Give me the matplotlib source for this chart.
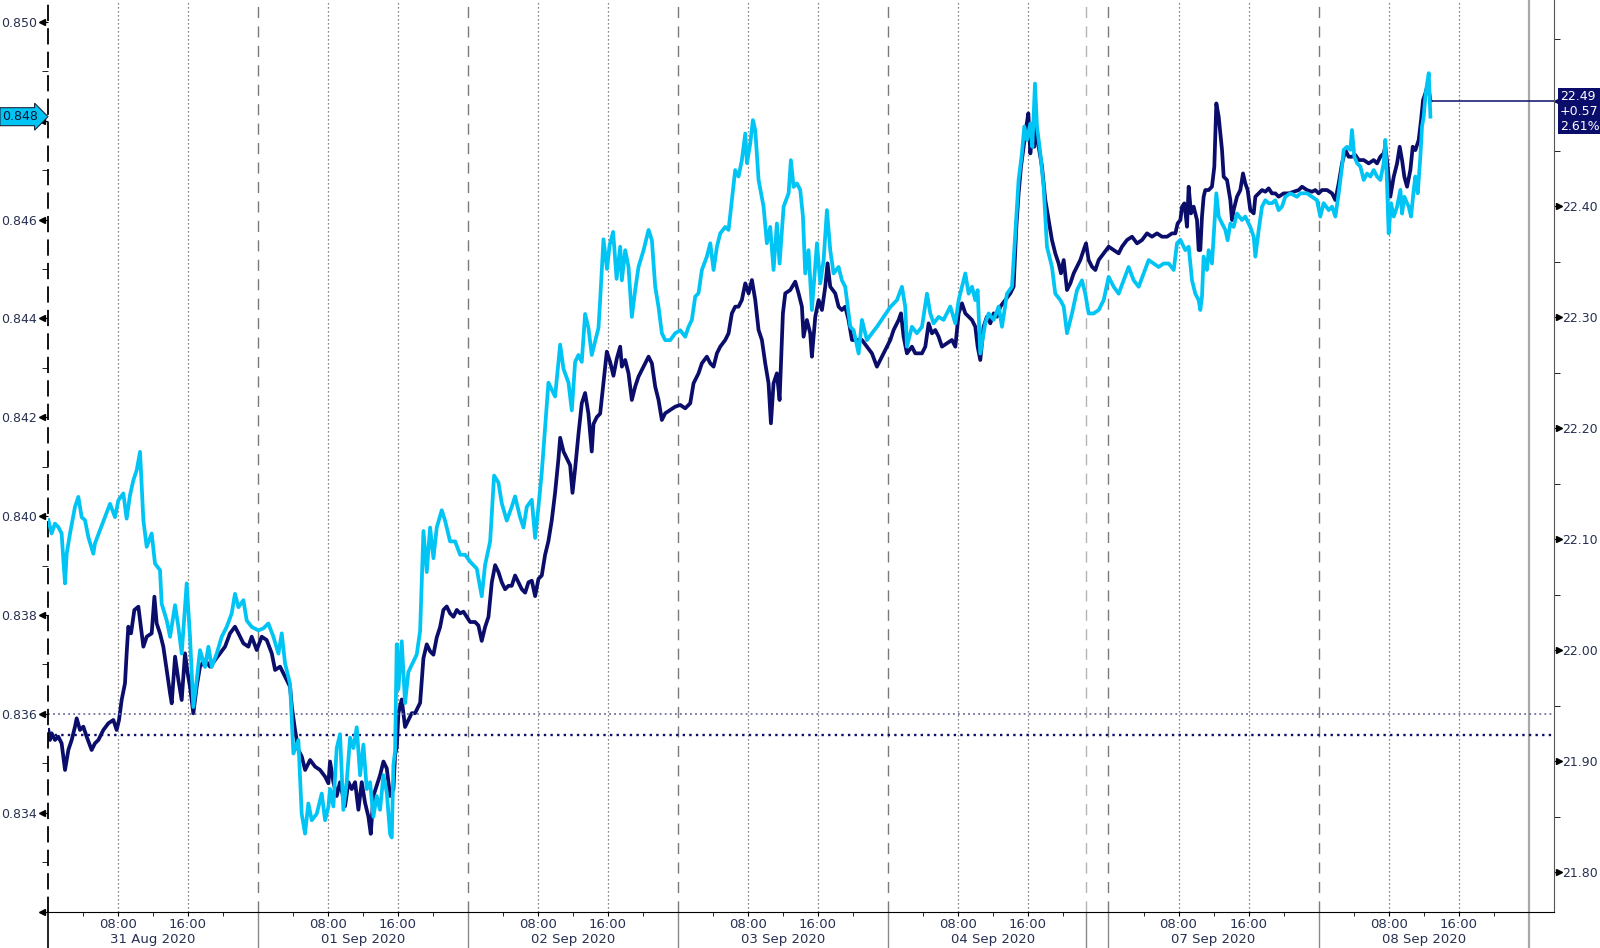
import matplotlib
matplotlib.use("Agg")
import matplotlib.pyplot as plt
import numpy as np
from matplotlib.transforms import blended_transform_factory as blend

# x positions are "chart hours" from 31 Aug 00:00 with the weekend squeezed out
day_starts = [0, 24, 48, 72, 96, 121.2, 145.2]
day_names = ["31 Aug 2020", "01 Sep 2020", "02 Sep 2020", "03 Sep 2020",
             "04 Sep 2020", "07 Sep 2020", "08 Sep 2020"]
week_break = 118.6
end_of_view = 169.2
x_max = 172.1

# light blue series (left axis)
light_t = [
    0.07, 0.45, 0.83, 1.21, 1.59, 1.79, 1.98, 2.17, 2.55, 3.12,
    3.50, 3.88, 4.26, 4.64, 5.21, 5.40, 5.98, 6.55, 7.12, 7.69,
    8.07, 8.64, 9.02, 9.40, 9.79, 10.17, 10.55, 10.74, 10.93, 11.31,
    11.88, 12.26, 12.83, 13.02, 13.60, 13.98, 14.55, 14.93, 15.31, 15.88,
    16.26, 16.64, 17.02, 17.40, 17.98, 18.36, 18.74, 19.31, 19.88, 20.45,
    21.02, 21.40, 21.79, 22.36, 22.74, 23.31, 24.07, 24.64, 25.21, 25.79,
    26.36, 26.74, 27.12, 27.69, 28.07, 28.64, 29.02, 29.40, 29.78, 30.17,
    30.74, 31.31, 31.69, 32.07, 32.26, 32.64, 33.02, 33.40, 33.78, 34.16,
    34.55, 34.93, 35.31, 35.69, 36.07, 36.45, 36.83, 37.21, 37.59, 37.97,
    38.36, 38.74, 39.12, 39.31, 39.50, 39.69, 39.88, 40.07, 40.45, 40.83,
    41.21, 41.78, 42.16, 42.55, 42.93, 43.31, 43.69, 44.07, 44.45, 45.02,
    45.40, 45.97, 46.55, 47.12, 47.69, 48.26, 49.02, 49.59, 49.97, 50.55,
    51.00, 51.50, 51.88, 52.45, 53.02, 53.40, 53.97, 54.36, 54.74, 55.31,
    55.69, 56.07, 56.45, 56.83, 57.21, 57.59, 57.97, 58.55, 58.93, 59.50,
    59.88, 60.26, 60.64, 61.02, 61.40, 61.78, 62.16, 62.55, 62.93, 63.12,
    63.50, 63.90, 64.20, 64.60, 65.00, 65.41, 65.60, 65.98, 66.36, 66.74,
    67.12, 67.50, 68.08, 68.65, 69.03, 69.41, 69.79, 70.17, 70.55, 71.12,
    71.70, 72.27, 72.84, 73.22, 73.60, 73.98, 74.36, 74.74, 75.31, 75.70,
    76.08, 76.46, 76.84, 77.41, 77.79, 78.17, 78.55, 78.93, 79.31, 79.70,
    79.89, 80.27, 80.57, 80.84, 81.22, 81.79, 82.17, 82.55, 82.93, 83.31,
    83.62, 84.08, 84.65, 84.91, 85.22, 85.60, 85.98, 86.29, 86.55, 86.93,
    87.31, 87.89, 88.27, 88.65, 89.03, 89.41, 89.79, 90.36, 90.74, 91.12,
    91.70, 92.08, 92.65, 93.03, 93.60, 94.17, 94.74, 95.50, 96.27, 97.03,
    97.60, 97.98, 98.17, 98.74, 99.31, 99.89, 100.46, 100.84, 101.22, 101.79,
    102.36, 103.12, 103.70, 104.08, 104.46, 104.84, 105.22, 105.60, 105.98, 106.25,
    106.55, 107.12, 107.50, 108.08, 108.65, 109.03, 109.60, 110.17, 110.55, 110.93,
    111.31, 111.58, 111.89, 112.27, 112.50, 112.80, 113.03, 113.41, 113.79, 114.17,
    114.74, 115.12, 115.70, 116.08, 116.46, 117.03, 117.60, 118.17, 118.55, 118.93,
    119.50, 120.08, 120.65, 121.22, 121.79, 122.36, 122.93, 123.50, 124.08, 124.65,
    125.22, 125.79, 126.36, 126.93, 127.50, 128.08, 128.65, 129.03, 129.41, 129.98,
    130.36, 130.74, 131.12, 131.50, 131.69, 131.88, 132.07, 132.45, 132.64, 133.02,
    133.21, 133.52, 133.79, 134.17, 134.55, 134.81, 135.12, 135.50, 135.88, 136.45,
    136.83, 137.40, 137.79, 137.98, 138.36, 138.74, 139.12, 139.50, 139.88, 140.26,
    140.64, 141.02, 141.40, 141.98, 142.74, 143.12, 143.88, 144.45, 145.02, 145.40,
    145.78, 146.36, 146.74, 147.12, 147.50, 147.88, 148.07, 148.45, 148.83, 149.02,
    149.29, 149.60, 149.98, 150.36, 150.74, 151.12, 151.50, 151.88, 152.26, 152.64,
    152.83, 153.02, 153.21, 153.48, 153.79, 154.17, 154.55, 154.74, 155.00, 155.31,
    155.50, 155.77, 156.07, 156.26, 156.53, 156.83, 157.02, 157.21, 157.40, 157.60,
    157.79, 157.98,
]
light_v = [
    0.83992, 0.83965, 0.83985, 0.83978, 0.83965, 0.83911, 0.83864, 0.83924, 0.83965, 0.84019,
    0.84039, 0.83998, 0.83992, 0.83958, 0.83924, 0.83945, 0.83972, 0.83998, 0.84025, 0.83998,
    0.84032, 0.84046, 0.83995, 0.84042, 0.84073, 0.84093, 0.84130, 0.84059, 0.83992, 0.83938,
    0.83965, 0.83904, 0.83891, 0.83823, 0.83789, 0.83756, 0.83820, 0.83776, 0.83722, 0.83864,
    0.83756, 0.83614, 0.83668, 0.83729, 0.83695, 0.83736, 0.83695, 0.83722, 0.83756, 0.83776,
    0.83803, 0.83843, 0.83816, 0.83830, 0.83789, 0.83776, 0.83769, 0.83773, 0.83783, 0.83756,
    0.83722, 0.83763, 0.83702, 0.83661, 0.83520, 0.83547, 0.83398, 0.83358, 0.83419, 0.83385,
    0.83398, 0.83439, 0.83385, 0.83412, 0.83448, 0.83413, 0.83531, 0.83559, 0.83406, 0.83462,
    0.83552, 0.83531, 0.83573, 0.83476, 0.83538, 0.83448, 0.83462, 0.83392, 0.83434, 0.83406,
    0.83476, 0.83441, 0.83357, 0.83350, 0.83497, 0.83525, 0.83741, 0.83650, 0.83747, 0.83622,
    0.83685, 0.83706, 0.83720, 0.83768, 0.83970, 0.83887, 0.83977, 0.83915, 0.83977, 0.84012,
    0.83991, 0.83949, 0.83949, 0.83922, 0.83922, 0.83908, 0.83894, 0.83838, 0.83901, 0.83949,
    0.84082, 0.84068, 0.84026, 0.83991, 0.84019, 0.84040, 0.83998, 0.83977, 0.84019, 0.84033,
    0.83956, 0.84019, 0.84089, 0.84179, 0.84270, 0.84256, 0.84242, 0.84347, 0.84298, 0.84270,
    0.84214, 0.84312, 0.84326, 0.84312, 0.84409, 0.84381, 0.84326, 0.84354, 0.84381, 0.84437,
    0.84560, 0.84500, 0.84548, 0.84575, 0.84480, 0.84545, 0.84477, 0.84538, 0.84504, 0.84403,
    0.84457, 0.84504, 0.84538, 0.84579, 0.84558, 0.84464, 0.84423, 0.84370, 0.84356, 0.84356,
    0.84370, 0.84376, 0.84363, 0.84383, 0.84397, 0.84444, 0.84451, 0.84498, 0.84525, 0.84552,
    0.84498, 0.84545, 0.84572, 0.84585, 0.84579, 0.84639, 0.84700, 0.84687, 0.84720, 0.84774,
    0.84714, 0.84754, 0.84801, 0.84781, 0.84680, 0.84626, 0.84552, 0.84585, 0.84498, 0.84592,
    0.84511, 0.84626, 0.84653, 0.84720, 0.84666, 0.84673, 0.84660, 0.84606, 0.84491, 0.84538,
    0.84417, 0.84552, 0.84471, 0.84518, 0.84619, 0.84538, 0.84491, 0.84504, 0.84477, 0.84464,
    0.84383, 0.84376, 0.84329, 0.84397, 0.84356, 0.84370, 0.84383, 0.84403, 0.84423, 0.84437,
    0.84464, 0.84423, 0.84343, 0.84383, 0.84370, 0.84383, 0.84450, 0.84410, 0.84390, 0.84403,
    0.84397, 0.84424, 0.84390, 0.84437, 0.84464, 0.84491, 0.84450, 0.84464, 0.84437, 0.84457,
    0.84329, 0.84390, 0.84410, 0.84397, 0.84424, 0.84383, 0.84450, 0.84464, 0.84572, 0.84680,
    0.84734, 0.84788, 0.84761, 0.84794, 0.84747, 0.84875, 0.84788, 0.84734, 0.84666, 0.84545,
    0.84504, 0.84450, 0.84437, 0.84424, 0.84370, 0.84410, 0.84457, 0.84477, 0.84450, 0.84410,
    0.84410, 0.84417, 0.84437, 0.84484, 0.84464, 0.84450, 0.84477, 0.84504, 0.84477, 0.84464,
    0.84491, 0.84518, 0.84511, 0.84504, 0.84511, 0.84511, 0.84498, 0.84552, 0.84559, 0.84538,
    0.84545, 0.84477, 0.84450, 0.84437, 0.84417, 0.84444, 0.84525, 0.84498, 0.84538, 0.84511,
    0.84565, 0.84653, 0.84606, 0.84592, 0.84579, 0.84558, 0.84592, 0.84585, 0.84612, 0.84599,
    0.84606, 0.84585, 0.84565, 0.84525, 0.84579, 0.84626, 0.84639, 0.84633, 0.84633, 0.84639,
    0.84619, 0.84626, 0.84646, 0.84653, 0.84646, 0.84653, 0.84653, 0.84646, 0.84639, 0.84606,
    0.84633, 0.84619, 0.84626, 0.84606, 0.84653, 0.84707, 0.84741, 0.84747, 0.84741, 0.84781,
    0.84727, 0.84714, 0.84707, 0.84680, 0.84693, 0.84687, 0.84700, 0.84687, 0.84680, 0.84714,
    0.84761, 0.84673, 0.84572, 0.84633, 0.84606, 0.84626, 0.84660, 0.84612, 0.84646, 0.84633,
    0.84626, 0.84606, 0.84660, 0.84687, 0.84653, 0.84727, 0.84788, 0.84808, 0.84848, 0.84875,
    0.84896, 0.84808,
]

# dark navy series (right axis)
dark_t = [
    0.07, 0.26, 0.45, 0.83, 1.21, 1.59, 1.98, 2.36, 2.74, 3.12,
    3.31, 3.69, 4.07, 4.45, 5.02, 5.40, 5.79, 6.36, 6.93, 7.50,
    7.88, 8.15, 8.45, 8.83, 9.02, 9.21, 9.52, 9.90, 10.36, 10.55,
    10.93, 11.31, 11.88, 12.19, 12.45, 12.83, 13.21, 13.60, 13.98, 14.17,
    14.55, 14.93, 15.31, 15.69, 15.99, 16.26, 16.64, 17.02, 17.40, 17.98,
    18.55, 19.12, 19.69, 20.26, 20.83, 21.40, 21.79, 22.36, 22.93, 23.31,
    23.88, 24.45, 25.02, 25.60, 25.98, 26.55, 27.12, 27.69, 27.89, 28.26,
    28.64, 29.03, 29.41, 29.98, 30.55, 31.12, 31.69, 32.07, 32.26, 32.64,
    33.02, 33.40, 33.97, 34.36, 34.74, 35.12, 35.50, 35.88, 36.26, 36.64,
    36.91, 37.21, 37.59, 37.97, 38.36, 38.74, 39.12, 39.50, 39.69, 39.88,
    40.07, 40.45, 40.83, 41.21, 41.59, 41.97, 42.55, 42.93, 43.31, 43.69,
    44.07, 44.45, 44.83, 45.21, 45.59, 45.97, 46.36, 46.74, 47.12, 47.50,
    47.88, 48.26, 48.83, 49.21, 49.59, 49.97, 50.36, 50.74, 51.12, 51.50,
    51.88, 52.26, 52.64, 53.02, 53.40, 53.78, 54.17, 54.55, 54.93, 55.31,
    55.69, 56.07, 56.45, 56.83, 57.21, 57.59, 57.97, 58.36, 58.55, 58.93,
    59.31, 59.69, 59.96, 60.26, 60.64, 61.02, 61.40, 61.78, 62.16, 62.36,
    62.74, 63.12, 63.50, 63.88, 64.26, 64.64, 65.02, 65.41, 65.60, 65.98,
    66.36, 66.74, 67.12, 67.50, 68.08, 68.65, 69.03, 69.41, 69.79, 70.17,
    70.55, 71.12, 71.70, 72.27, 72.84, 73.41, 73.79, 74.36, 74.74, 75.31,
    75.70, 76.08, 76.46, 76.84, 77.41, 77.79, 78.17, 78.55, 78.93, 79.31,
    79.70, 80.08, 80.46, 80.84, 81.22, 81.60, 81.98, 82.36, 82.63, 82.93,
    83.31, 83.62, 84.00, 84.27, 84.84, 85.41, 85.79, 86.17, 86.36, 86.74,
    87.12, 87.31, 87.70, 88.08, 88.46, 88.84, 89.10, 89.41, 89.98, 90.36,
    90.74, 91.12, 91.50, 91.89, 92.46, 93.03, 93.60, 94.17, 94.74, 95.31,
    95.89, 96.27, 96.65, 97.22, 97.49, 97.79, 98.17, 98.74, 99.12, 99.50,
    99.89, 100.27, 100.65, 101.03, 101.41, 101.79, 102.17, 102.74, 103.31, 103.70,
    104.08, 104.46, 104.84, 105.22, 105.60, 105.98, 106.25, 106.55, 106.93, 107.31,
    107.70, 108.08, 108.46, 108.84, 109.41, 109.98, 110.36, 110.67, 110.93, 111.20,
    111.50, 111.81, 112.04, 112.27, 112.50, 112.72, 112.95, 113.22, 113.60, 113.98,
    114.36, 114.74, 115.12, 115.50, 115.77, 116.08, 116.46, 116.84, 117.22, 117.60,
    117.98, 118.36, 118.63, 118.93, 119.31, 119.70, 120.08, 120.65, 121.22, 121.79,
    122.36, 122.74, 123.31, 123.89, 124.46, 125.03, 125.60, 126.17, 126.74, 127.31,
    127.89, 128.46, 128.84, 129.10, 129.41, 129.60, 129.87, 130.17, 130.36, 130.63,
    130.93, 131.31, 131.50, 131.69, 131.88, 132.07, 132.26, 132.64, 133.02, 133.29,
    133.52, 133.79, 133.98, 134.17, 134.36, 134.74, 135.12, 135.31, 135.50, 135.88,
    136.26, 136.57, 136.83, 137.10, 137.40, 137.79, 137.98, 138.36, 138.74, 139.12,
    139.50, 139.88, 140.26, 140.64, 141.21, 141.79, 142.36, 142.93, 143.31, 143.88,
    144.45, 144.83, 145.21, 145.59, 146.17, 146.74, 147.12, 147.50, 147.88, 148.26,
    148.64, 149.02, 149.40, 149.79, 150.36, 150.93, 151.50, 151.88, 152.26, 152.64,
    152.83, 153.10, 153.40, 153.79, 154.17, 154.47, 154.74, 155.00, 155.31, 155.69,
    155.96, 156.26, 156.64, 156.91, 157.14, 157.40, 157.60, 157.79, 157.98,
]
dark_v = [
    21.9283, 21.9193, 21.9253, 21.9193, 21.9223, 21.9163, 21.8923, 21.9103, 21.9193, 21.9313,
    21.9388, 21.9283, 21.9313, 21.9223, 21.9103, 21.9163, 21.9193, 21.9283, 21.9343, 21.9373,
    21.9283, 21.9373, 21.9553, 21.9703, 21.9973, 22.0213, 22.0153, 22.0363, 22.0393, 22.0273,
    22.0033, 22.0123, 22.0153, 22.0483, 22.0243, 22.0153, 22.0033, 21.9823, 21.9613, 21.9523,
    21.9943, 21.9733, 21.9553, 21.9973, 21.9793, 21.9673, 21.9433, 21.9673, 21.9853, 21.9913,
    21.9853, 21.9913, 21.9973, 22.0033, 22.0153, 22.0213, 22.0153, 22.0063, 22.0033, 22.0123,
    22.0003, 22.0123, 22.0093, 21.9973, 21.9823, 21.9853, 21.9763, 21.9673, 21.9493, 21.9283,
    21.9103, 21.9043, 21.8923, 21.9013, 21.8953, 21.8923, 21.8863, 21.8803, 21.8999, 21.8813,
    21.8689, 21.8813, 21.8596, 21.8813, 21.8751, 21.8813, 21.8565, 21.8813, 21.8627, 21.8503,
    21.8348, 21.8689, 21.8782, 21.8875, 21.8999, 21.8937, 21.8689, 21.8751, 21.9061, 21.9124,
    21.9434, 21.9558, 21.9310, 21.9372, 21.9434, 21.9434, 21.9527, 21.9930, 22.0054, 21.9992,
    21.9961, 22.0116, 22.0209, 22.0364, 22.0395, 22.0333, 22.0302, 22.0364, 22.0333, 22.0348,
    22.0302, 22.0255, 22.0255, 22.0224, 22.0085, 22.0209, 22.0302, 22.0612, 22.0767, 22.0705,
    22.0612, 22.0550, 22.0581, 22.0581, 22.0674, 22.0612, 22.0550, 22.0519, 22.0612, 22.0627,
    22.0488, 22.0643, 22.0674, 22.0860, 22.0984, 22.1170, 22.1418, 22.1728, 22.1914, 22.1790,
    22.1728, 22.1666, 22.1418, 22.1635, 22.1945, 22.2224, 22.2317, 22.2131, 22.1790, 22.2038,
    22.2100, 22.2131, 22.2410, 22.2689, 22.2596, 22.2472, 22.2627, 22.2734, 22.2554, 22.2614,
    22.2494, 22.2254, 22.2374, 22.2464, 22.2554, 22.2644, 22.2584, 22.2374, 22.2254, 22.2074,
    22.2134, 22.2164, 22.2194, 22.2209, 22.2179, 22.2224, 22.2404, 22.2494, 22.2584, 22.2644,
    22.2584, 22.2554, 22.2674, 22.2734, 22.2794, 22.2854, 22.3034, 22.3094, 22.3094, 22.3154,
    22.3304, 22.3214, 22.3334, 22.3154, 22.2884, 22.2794, 22.2584, 22.2404, 22.2044, 22.2404,
    22.2494, 22.2254, 22.3034, 22.3214, 22.3244, 22.3319, 22.3214, 22.3094, 22.2824, 22.2974,
    22.2854, 22.2644, 22.3004, 22.3154, 22.3064, 22.3274, 22.3484, 22.3274, 22.3214, 22.3094,
    22.3064, 22.3094, 22.2974, 22.2794, 22.2794, 22.2794, 22.2734, 22.2674, 22.2554, 22.2644,
    22.2734, 22.2794, 22.2884, 22.2974, 22.3034, 22.2824, 22.2674, 22.2734, 22.2674, 22.2674,
    22.2674, 22.2734, 22.2944, 22.2854, 22.2884, 22.2824, 22.2734, 22.2764, 22.2794, 22.2734,
    22.3034, 22.3124, 22.3034, 22.3004, 22.2974, 22.2914, 22.2734, 22.2614, 22.2914, 22.3004,
    22.2944, 22.3034, 22.3004, 22.3094, 22.3154, 22.3214, 22.3274, 22.3814, 22.4114, 22.4354,
    22.4534, 22.4714, 22.4834, 22.4474, 22.4654, 22.4534, 22.4714, 22.4534, 22.4354, 22.4054,
    22.3874, 22.3694, 22.3574, 22.3484, 22.3394, 22.3514, 22.3244, 22.3304, 22.3394, 22.3454,
    22.3514, 22.3604, 22.3664, 22.3514, 22.3454, 22.3424, 22.3514, 22.3574, 22.3634, 22.3604,
    22.3574, 22.3634, 22.3694, 22.3724, 22.3664, 22.3694, 22.3754, 22.3724, 22.3754, 22.3724,
    22.3724, 22.3754, 22.3754, 22.3844, 22.3874, 22.3994, 22.4024, 22.3814, 22.4174, 22.3934,
    22.3994, 22.3874, 22.3604, 22.3604, 22.3904, 22.4084, 22.4144, 22.4144, 22.4174, 22.4354,
    22.4924, 22.4804, 22.4654, 22.4504, 22.4264, 22.4234, 22.4054, 22.3874, 22.3964, 22.4084,
    22.4144, 22.4294, 22.4204, 22.4144, 22.3964, 22.3934, 22.4084, 22.4114, 22.4144, 22.4129,
    22.4159, 22.4114, 22.4114, 22.4084, 22.4114, 22.4114, 22.4129, 22.4144, 22.4174, 22.4144,
    22.4129, 22.4144, 22.4114, 22.4144, 22.4144, 22.4114, 22.4054, 22.4204, 22.4384, 22.4504,
    22.4444, 22.4444, 22.4459, 22.4414, 22.4414, 22.4384, 22.4414, 22.4384, 22.4444, 22.4474,
    22.4534, 22.4354, 22.4084, 22.4264, 22.4384, 22.4534, 22.4414, 22.4264, 22.4174, 22.4324,
    22.4534, 22.4504, 22.4594, 22.4774, 22.4954, 22.5014, 22.5074, 22.5044, 22.4950,
]

assert len(light_t) == len(light_v), (len(light_t), len(light_v))
assert len(dark_t) == len(dark_v), (len(dark_t), len(dark_v))

light_prev_close = 0.8360
dark_prev_close = 21.924
light_tag = "0.848"
dark_tag = "22.49\n+0.57\n2.61%"

left_ticks = [0.832, 0.834, 0.836, 0.838, 0.840, 0.842, 0.844, 0.846, 0.848, 0.850]
left_labels = ["", "0.834", "0.836", "0.838", "0.840", "0.842", "0.844", "0.846", "", "0.850"]
right_ticks = [21.80, 21.90, 22.00, 22.10, 22.20, 22.30, 22.40]

LIGHT = "#00c4f4"
NAVY = "#0b0d6a"
TXT = "#263050"

W, H = 1600, 948
fig = plt.figure(figsize=(W / 100, H / 100), dpi=100)
ax_x0, ax_x1, ax_y1 = 47.7, 1554, 911.7
ax = fig.add_axes([ax_x0 / W, 1 - ax_y1 / H, (ax_x1 - ax_x0) / W, ax_y1 / H])
axL = ax.twinx()  # drawn on top, so the light line sits over the navy one

ax.set_xlim(0, x_max)
ax.set_ylim(21.7647, 22.5855)
axL.set_ylim(0.83200, 0.85044)

# vertical guides
for d in day_starts[1:]:
    ax.axvline(d, color="#7a7a7a", lw=1.0, ls=(0, (8, 6)), zorder=1)
ax.axvline(week_break, color="#b4b4b4", lw=1.0, ls=(0, (8, 6)), zorder=1)
ax.axvline(end_of_view, color="#a8a8a8", lw=1.6, zorder=1)
for d in day_starts:
    for hh in (8, 16):
        ax.axvline(d + hh, color="#5e5e5e", lw=0.9, ls=(0, (1, 2.2)), zorder=1)

# guides running down through the label area
below = blend(ax.transData, ax.transAxes)
for d in day_starts[1:] + [week_break]:
    ax.plot([d, d], [0, -0.05], color="#8a8a8a", lw=1.0, transform=below, clip_on=False)
ax.plot([end_of_view, end_of_view], [0, -0.05], color="#a8a8a8", lw=1.6,
        transform=below, clip_on=False)
ax.plot([0, 0], [0, -0.05], color="black", lw=1.2, transform=below, clip_on=False)

# previous close lines
axL.axhline(light_prev_close, color="#6d6f9e", lw=1.3, ls=(0, (1, 1.8)), zorder=1)
ax.axhline(dark_prev_close, color=NAVY, lw=1.7, ls=(0, (1, 1.8)), zorder=1)

# series
ax.plot(dark_t, dark_v, color=NAVY, lw=2.7, zorder=3)
axL.plot(light_t, light_v, color=LIGHT, lw=2.7, zorder=3)

# last value line to right axis
ax.plot([dark_t[-1], x_max], [dark_v[-1], dark_v[-1]], color=NAVY, lw=1.1, zorder=3)

# spines
for s in ("top", "left"):
    ax.spines[s].set_visible(False)
ax.spines["right"].set_color("#555555")
ax.spines["bottom"].set_color("black")
for s in ("top", "right", "bottom"):
    axL.spines[s].set_visible(False)
axL.spines["left"].set_color("black")
axL.spines["left"].set_linewidth(1.3)
axL.spines["left"].set_linestyle((0, (8, 5)))

# x ticks
xt_major = sorted([d + 8 for d in day_starts] + [d + 16 for d in day_starts])
xt_minor = [d + k for d in day_starts for k in (4, 12, 20)]
ax.set_xticks(xt_major)
ax.set_xticklabels(["08:00", "16:00"] * len(day_starts))
ax.set_xticks(xt_minor, minor=True)
ax.tick_params(axis="x", which="both", direction="out", length=3, color="black",
               labelsize=9.5, labelcolor=TXT, pad=1.5)
for d, name in zip(day_starts, day_names):
    ax.text(d + 12, -0.031, name, transform=below, ha="center", va="center",
            fontsize=9.5, color=TXT)

# left axis (light)
axL.yaxis.tick_left()
axL.set_yticks(left_ticks)
axL.set_yticklabels(left_labels)
axL.set_yticks(np.arange(0.833, 0.8505, 0.002), minor=True)
axL.tick_params(axis="y", which="major", direction="out", length=4, color="black",
                labelsize=9, labelcolor=TXT, pad=3.5)
axL.tick_params(axis="y", which="minor", direction="out", length=4, color="black")
trL = blend(axL.transAxes, axL.transData)
for v in left_ticks:
    axL.plot([-0.0036], [v], marker="<", ms=5, color="black", transform=trL, clip_on=False)

# right axis (navy)
ax.yaxis.tick_right()
ax.set_yticks(right_ticks)
ax.set_yticklabels(["%.2f" % v for v in right_ticks])
ax.set_yticks(np.arange(21.85, 22.56, 0.1), minor=True)
ax.tick_params(axis="y", which="major", direction="out", length=4, color="black",
               labelsize=9, labelcolor=TXT, pad=2)
ax.tick_params(axis="y", which="minor", direction="out", length=4, color="black")
trR = blend(ax.transAxes, ax.transData)
for v in right_ticks:
    ax.plot([1.0034], [v], marker=">", ms=5, color="black", transform=trR, clip_on=False)

# value tags
axL.text(-0.0062, light_v[-1], light_tag, transform=trL, ha="right", va="center",
         fontsize=9, color="#0a1530",
         bbox=dict(boxstyle="rarrow,pad=0.2", fc=LIGHT, ec="#1a2a40", lw=0.8))
ax.plot([1.003], [dark_v[-1]], marker="<", ms=7, color=NAVY, transform=trR, clip_on=False)
ax.annotate(dark_tag, xy=(1.0, dark_v[-1]), xycoords=trR, xytext=(6, 11),
            textcoords="offset pixels", ha="left", va="top", fontsize=9,
            color="white", linespacing=1.2,
            bbox=dict(boxstyle="square,pad=0.15", fc=NAVY, ec="none"))

fig.savefig("out.png", dpi=100)
